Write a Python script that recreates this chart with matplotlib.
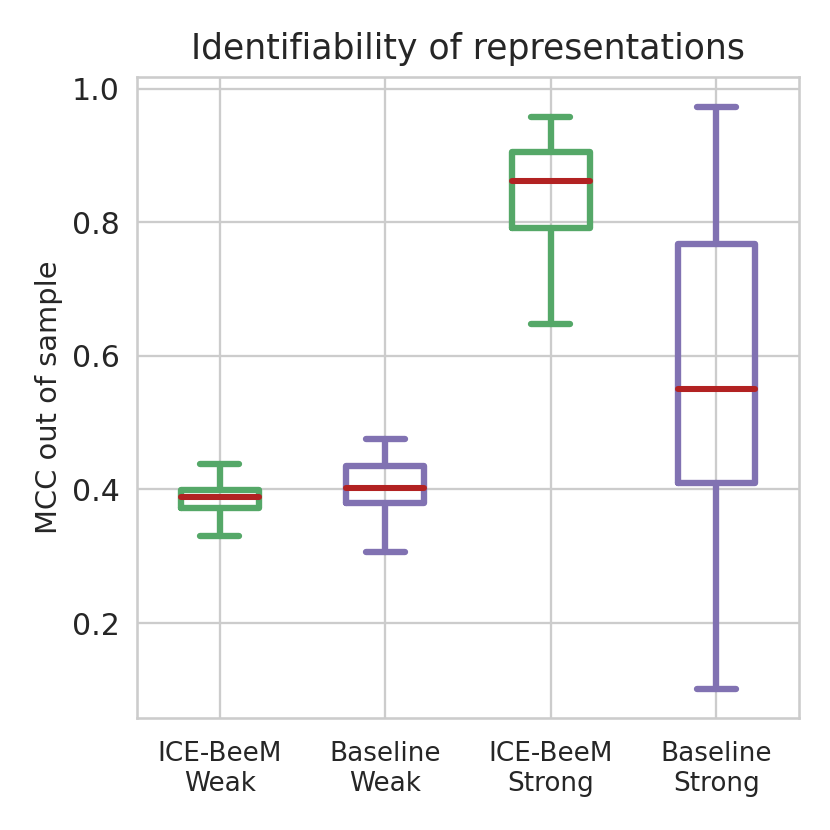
import matplotlib
matplotlib.use('Agg')
import matplotlib.pyplot as plt
import seaborn as sns

labels = ['ICE-BeeM\nWeak', 'Baseline\nWeak', 'ICE-BeeM\nStrong', 'Baseline\nStrong']
whislo = [0.331, 0.307, 0.648, 0.101]
q1 = [0.372, 0.379, 0.791, 0.410]
med = [0.388, 0.402, 0.861, 0.550]
q3 = [0.399, 0.435, 0.905, 0.768]
whishi = [0.438, 0.475, 0.957, 0.972]
colors = ['#55A868', '#8172B2', '#55A868', '#8172B2']

sns.set_style('whitegrid')
plt.rcParams['font.family'] = ['DejaVu Sans']

fig = plt.figure(figsize=(4, 4), dpi=207.5)
ax = fig.add_axes([0.165, 0.135, 0.798, 0.772])

stats = []
for i in range(len(labels)):
    stats.append(dict(label=labels[i], whislo=whislo[i], q1=q1[i], med=med[i],
                      q3=q3[i], whishi=whishi[i], fliers=[]))

bp = ax.bxp(stats, showfliers=False, widths=0.47)

for i, c in enumerate(colors):
    bp['boxes'][i].set(color=c, linewidth=2.2, solid_joinstyle='round')
    for w in bp['whiskers'][2 * i:2 * i + 2]:
        w.set(color=c, linewidth=2.2, solid_capstyle='round')
    for cap in bp['caps'][2 * i:2 * i + 2]:
        cap.set(color=c, linewidth=2.2, solid_capstyle='round')
    bp['medians'][i].set(color='#B22222', linewidth=2.1, solid_capstyle='round')

ax.set_ylim(0.058, 1.017)
ax.set_xlim(0.5, 4.5)
ax.set_yticks([0.2, 0.4, 0.6, 0.8, 1.0])
ax.grid(True, color='#cccccc', linewidth=0.8)
for s in ax.spines.values():
    s.set_color('#cccccc')
    s.set_linewidth(0.9)
ax.tick_params(axis='y', labelsize=10.4, colors='#262626', length=0, pad=6)
ax.tick_params(axis='x', labelsize=9.1, colors='#262626', length=0, pad=8)
ax.set_ylabel('MCC out of sample', fontsize=10, color='#262626', labelpad=3)
ax.set_title('Identifiability of representations', fontsize=12, color='#262626', pad=6.3)

fig.savefig('out.png', dpi=207.5)
